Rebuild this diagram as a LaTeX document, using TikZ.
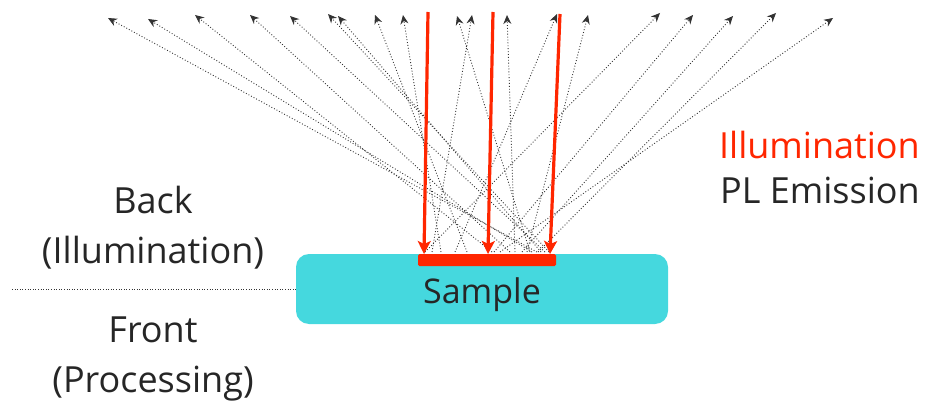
\documentclass[tikz,border=0pt]{standalone}
\usepackage{fontspec}
\setmainfont{Open Sans}
\usetikzlibrary{arrows.meta}
\definecolor{samplecyan}{HTML}{45D8DE}
\definecolor{illumred}{HTML}{FF2600}
\definecolor{textgray}{HTML}{262626}
\definecolor{raygray}{HTML}{333333}

\begin{document}
\begin{tikzpicture}[x=1pt, y=-1pt,
    lbl/.style={text=textgray, font=\fontsize{36}{50}\selectfont, inner sep=0pt, align=center},
    ray/.style={draw=raygray, line width=0.9pt, dotted, -{Stealth[length=9pt,width=8pt]}},
    beam/.style={draw=illumred, line width=3.2pt, -{Stealth[length=13pt,width=13pt,inset=3pt]}}]
    \useasboundingbox (0,0) rectangle (925,403);
    % sample and illuminated area
    \node (sample) [fill=samplecyan, rounded corners=13pt, minimum width=372pt, minimum height=70pt, inner sep=0pt] at (482,289) {};
    \node (samplelbl) [lbl, font=\fontsize{34}{40}\selectfont, anchor=base] at (482,303) {Sample};
    \node (spot) [fill=illumred, rounded corners=1.5pt, minimum width=138pt, minimum height=12pt, inner sep=0pt, anchor=north] at (487,254) {};
    % side separator and labels
    \coordinate (sep) at (12,289);
    \draw[raygray, line width=0.6pt, dotted] (sep) -- (sample.west);
    \node (back) [lbl, anchor=base] at (153,263) {Back\\(Illumination)};
    \node (front) [lbl, anchor=base] at (153,392) {Front\\(Processing)};
    \node (illum) [lbl, anchor=base east, text=illumred] at (920,159) {Illumination};
    \node (plem) [lbl, anchor=base east] at (920,204) {PL Emission};
    % PL emission rays
    \draw[ray] (537,252) -- (108,18);
    \draw[ray] (532,252) -- (148,19);
    \draw[ray] (492,252) -- (195,15);
    \draw[ray] (510,252) -- (250,15);
    \draw[ray] (545,252) -- (290,16);
    \draw[ray] (549,252) -- (328,14);
    \draw[ray] (541,252) -- (338,16);
    \draw[ray] (467,252) -- (375,15);
    \draw[ray] (441,252) -- (403,15);
    \draw[ray] (530,252) -- (457,16);
    \draw[ray] (432,252) -- (472,15);
    \draw[ray] (515,252) -- (507,15);
    \draw[ray] (455,252) -- (557,14);
    \draw[ray] (527,252) -- (588,15);
    \draw[ray] (425,252) -- (660,13);
    \draw[ray] (494,252) -- (693,15);
    \draw[ray] (522,252) -- (733,16);
    \draw[ray] (538,252) -- (776,13);
    \draw[ray] (500,252) -- (833,18);
    % illumination beams
    \draw[beam] (428,12) -- (424,254);
    \draw[beam] (493,12) -- (488,254);
    \draw[beam] (560,14) -- (550,254);
\end{tikzpicture}
\end{document}
